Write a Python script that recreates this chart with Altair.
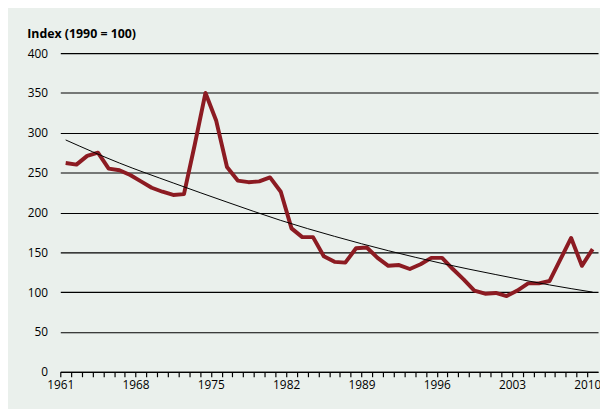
import altair as alt
import pandas as pd

years = list(range(1961, 2011))
index_values = [262, 260, 271, 275, 255, 253, 247, 239, 231, 226,
                222, 223, 285, 350, 315, 257, 240, 238, 239, 244,
                226, 180, 169, 169, 145, 138, 137, 155, 156, 143,
                133, 134, 129, 135, 143, 143, 129, 116, 102, 98,
                99, 95, 102, 111, 111, 114, 141, 168, 133, 154]
trend_years = [1961, 1966, 1971, 1976, 1981, 1986, 1991, 1996, 2001, 2006, 2010]
trend_values = [291, 262, 237, 213, 190, 170, 152, 136, 122, 109, 100]
y_ticks = [0, 50, 100, 150, 200, 250, 300, 350, 400]

df = pd.DataFrame({"year": years, "value": index_values})
df_trend = pd.DataFrame({"year": trend_years, "value": trend_values})

FONT = "Open Sans"

x_enc = alt.X(
    "xpos:Q",
    scale=alt.Scale(domain=[1961, 2011], nice=False, zero=False),
    axis=alt.Axis(
        values=years,
        format="d",
        labelExpr="(datum.value - 1961) % 7 === 0 ? datum.label : ''",
        labelOverlap=False,
        labelFlush=False,
        title=None,
        grid=False,
        domainColor="black",
        domainWidth=1.2,
        tickColor="black",
        tickWidth=1.2,
        tickSize=5,
        labelPadding=3,
        labelFont=FONT,
        labelFontSize=12,
        labelColor="black",
    ),
)
y_enc = alt.Y(
    "value:Q",
    scale=alt.Scale(domain=[0, 400], nice=False),
    axis=alt.Axis(
        values=y_ticks,
        title="Index (1990 = 100)",
        titleAngle=0,
        titleAlign="left",
        titleBaseline="alphabetic",
        titleX=-34,
        titleY=-16,
        titleFont=FONT,
        titleFontSize=12.5,
        titleFontWeight="bold",
        titleColor="black",
        domain=False,
        ticks=False,
        labelPadding=13,
        labelFont=FONT,
        labelFontSize=12,
        labelColor="black",
        grid=True,
        gridColor="black",
        gridWidth=1.1,
    ),
)

line = (
    alt.Chart(df)
    .transform_calculate(xpos="datum.year + 0.5")
    .mark_line(color="#8c1b22", strokeWidth=4, strokeJoin="round")
    .encode(x=x_enc, y=y_enc)
)

trend = (
    alt.Chart(df_trend)
    .transform_calculate(xpos="datum.year + 0.5")
    .mark_line(color="black", strokeWidth=1, interpolate="monotone")
    .encode(x=x_enc, y=y_enc)
)

chart = (
    alt.layer(line, trend)
    .properties(
        width=545,
        height=323,
        autosize=alt.AutoSizeParams(type="none"),
        padding={"left": 53, "top": 43, "right": 2, "bottom": 35},
        background="#eaf0ec",
    )
    .configure_view(stroke=None)
)

chart.save("out.html", embed_options={"renderer": "svg", "actions": False})
